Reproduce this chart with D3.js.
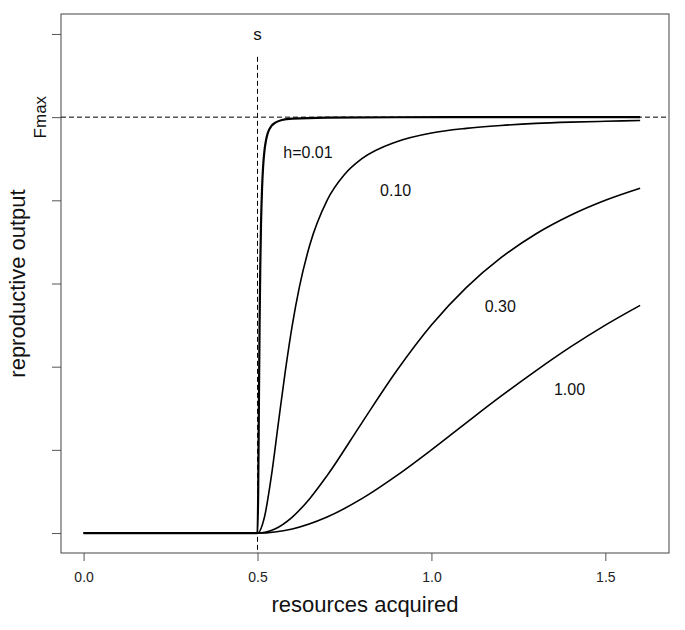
<!DOCTYPE html>
<html>
<head>
<meta charset="utf-8">
<script src="https://cdn.jsdelivr.net/npm/d3@7"></script>
<style>
  html, body { margin: 0; padding: 0; background: #fff; }
  svg { display: block; }
</style>
</head>
<body>
<svg id="chart" width="685" height="630"></svg>
<script>
// ---- data ----
const xTicks = [0.0, 0.5, 1.0, 1.5];
const xTickLabels = ["0.0", "0.5", "1.0", "1.5"];
const yTicks = [0, 0.2, 0.4, 0.6, 0.8, 1.0, 1.2];
const threshold = 0.5;     // s
const fmax = 1.0;          // Fmax
const curveLabels = ["h=0.01", "0.10", "0.30", "1.00"];

const resources001 = [0, 0.5, 0.502, 0.504, 0.506, 0.508, 0.51, 0.513, 0.516, 0.52, 0.525, 0.53, 0.54, 0.55, 0.57, 0.6, 0.7, 0.9, 1.2, 1.6];
const output001    = [0, 0, 0.103, 0.314, 0.507, 0.646, 0.741, 0.828, 0.880, 0.920, 0.947, 0.963, 0.979, 0.986, 0.993, 0.9965, 0.999, 0.9998, 1.0, 1.0];

const resources010 = [0, 0.5, 0.52, 0.54, 0.56, 0.58, 0.6, 0.62, 0.65, 0.7, 0.75, 0.8, 0.9, 1.0, 1.1, 1.2, 1.3, 1.4, 1.5, 1.6];
const output010    = [0, 0, 0.0385, 0.138, 0.265, 0.390, 0.500, 0.590, 0.692, 0.800, 0.862, 0.900, 0.941, 0.962, 0.973, 0.980, 0.985, 0.988, 0.990, 0.992];

const resources030 = [0, 0.5, 0.55, 0.6, 0.65, 0.7, 0.8, 0.9, 1.0, 1.1, 1.2, 1.3, 1.4, 1.5, 1.6];
const output030    = [0, 0, 0.0099, 0.0385, 0.0826, 0.138, 0.265, 0.390, 0.500, 0.590, 0.662, 0.719, 0.764, 0.800, 0.829];

const resources100 = [0, 0.5, 0.6, 0.7, 0.8, 0.9, 1.0, 1.1, 1.2, 1.3, 1.4, 1.5, 1.6];
const output100    = [0, 0, 0.0099, 0.0385, 0.0826, 0.138, 0.200, 0.265, 0.329, 0.390, 0.4475, 0.500, 0.5475];

// label anchor positions in data units
const labelX = [0.645, 0.897, 1.198, 1.397];
const labelY = [0.901, 0.811, 0.532, 0.332];

// ---- layout ----
const box = { left: 61, right: 669, top: 14, bottom: 553 };
const svg = d3.select("#chart");

const x = d3.scaleLinear().domain([-0.065, 1.683]).range([box.left, box.right]);
const y = d3.scaleLinear().domain([-0.048, 1.248]).range([box.bottom, box.top]);

const sans = "'Liberation Sans', Arial, Helvetica, sans-serif";
const narrow = "'Liberation Sans Narrow', 'Arial Narrow', 'Liberation Sans', Arial, sans-serif";

// axes
const xAxis = svg.append("g")
  .attr("transform", `translate(0,${box.bottom})`)
  .call(d3.axisBottom(x).tickValues(xTicks).tickFormat((d, i) => xTickLabels[i]).tickSize(8).tickPadding(11));
xAxis.select(".domain").remove();
xAxis.selectAll("line").attr("stroke", "#555");
xAxis.selectAll("text").attr("font-family", narrow).attr("font-size", 14).attr("fill", "#222");

const yAxis = svg.append("g")
  .attr("transform", `translate(${box.left},0)`)
  .call(d3.axisLeft(y).tickValues(yTicks).tickFormat("").tickSize(9));
yAxis.select(".domain").remove();
yAxis.selectAll("line").attr("stroke", "#555");

// plot box
svg.append("rect")
  .attr("x", box.left).attr("y", box.top)
  .attr("width", box.right - box.left).attr("height", box.bottom - box.top)
  .attr("fill", "none").attr("stroke", "#444").attr("stroke-width", 1);

// reference lines
svg.append("line")
  .attr("x1", box.left).attr("x2", box.right)
  .attr("y1", y(fmax)).attr("y2", y(fmax))
  .attr("stroke", "#000").attr("stroke-width", 1).attr("stroke-dasharray", "5,3");
svg.append("line")
  .attr("x1", x(threshold)).attr("x2", x(threshold))
  .attr("y1", y(1.145)).attr("y2", box.bottom)
  .attr("stroke", "#000").attr("stroke-width", 1).attr("stroke-dasharray", "5,3");

// curves
const series = [
  { xs: resources001, ys: output001, w: 2.2 },
  { xs: resources010, ys: output010, w: 1.6 },
  { xs: resources030, ys: output030, w: 1.6 },
  { xs: resources100, ys: output100, w: 1.6 }
];
const line = d3.line().x(d => x(d[0])).y(d => y(d[1])).curve(d3.curveMonotoneX);
series.forEach(s => {
  svg.append("path")
    .datum(s.xs.map((v, i) => [v, s.ys[i]]))
    .attr("d", line)
    .attr("fill", "none")
    .attr("stroke", "#000")
    .attr("stroke-width", s.w)
    .attr("stroke-linejoin", "round");
});

// curve labels
curveLabels.forEach((t, i) => {
  svg.append("text")
    .attr("x", x(labelX[i])).attr("y", y(labelY[i]))
    .attr("text-anchor", "middle")
    .attr("font-family", sans).attr("font-size", 16).attr("fill", "#111")
    .text(t);
});

// s label
svg.append("text")
  .attr("x", x(threshold)).attr("y", 40)
  .attr("text-anchor", "middle")
  .attr("font-family", sans).attr("font-size", 17).attr("fill", "#111")
  .text("s");

// Fmax label
svg.append("text")
  .attr("transform", `translate(45.5,${y(fmax)}) rotate(-90)`)
  .attr("text-anchor", "middle")
  .attr("font-family", sans).attr("font-size", 17).attr("fill", "#111")
  .text("Fmax");

// axis titles
svg.append("text")
  .attr("x", (box.left + box.right) / 2).attr("y", 612)
  .attr("text-anchor", "middle")
  .attr("font-family", sans).attr("font-size", 22).attr("fill", "#111")
  .text("resources acquired");

svg.append("text")
  .attr("transform", `translate(25,${(box.top + box.bottom) / 2}) rotate(-90)`)
  .attr("text-anchor", "middle")
  .attr("font-family", sans).attr("font-size", 22).attr("fill", "#111")
  .text("reproductive output");
</script>
</body>
</html>
